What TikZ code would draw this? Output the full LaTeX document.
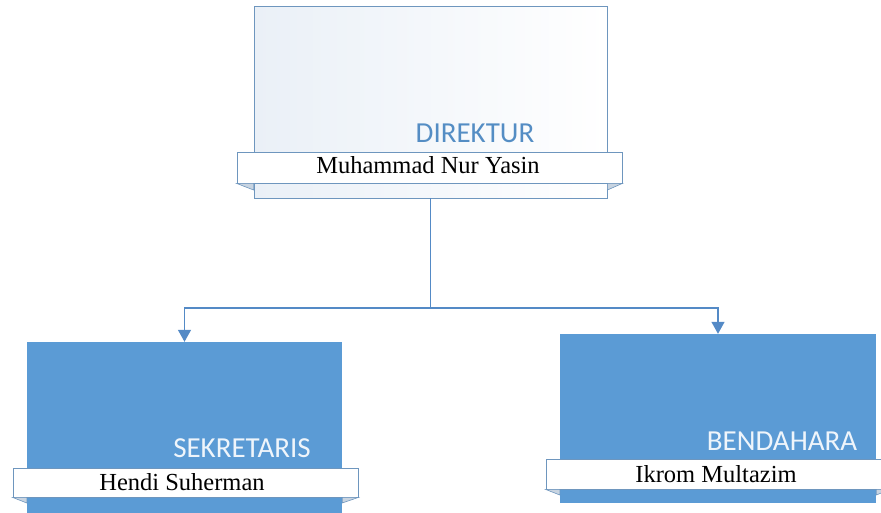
\documentclass[tikz,border=0pt]{standalone}
\usepackage{fontspec}
\setmainfont{Liberation Serif}
\newfontfamily\calib{Carlito}
\usetikzlibrary{arrows.meta}
\definecolor{boxblue}{RGB}{91,155,213}
\definecolor{lineblue}{RGB}{84,138,198}
\definecolor{edgeblue}{RGB}{110,150,190}
\definecolor{titleblue}{RGB}{84,141,196}
\definecolor{paleblue}{RGB}{234,240,247}
\definecolor{foldgray}{RGB}{200,212,225}
\tikzset{
  filledbox/.style={draw=none, fill=boxblue, minimum width=#1, inner sep=0pt},
  banner/.style={draw=edgeblue, line width=0.8pt, fill=white, inner sep=0pt},
  fold/.style={draw=edgeblue, line width=0.6pt, fill=foldgray},
  titletext/.style={font=\calib\fontsize{29}{29}\selectfont, inner sep=0pt, anchor=base},
  nametext/.style={font=\fontsize{24.5}{24.5}\selectfont, inner sep=0pt, anchor=base, text=black},
  conn/.style={draw=lineblue, line width=1.3pt, -{Triangle[width=13pt,length=12pt]}},
}
\begin{document}
\begin{tikzpicture}[x=1pt,y=-1pt]
\useasboundingbox (0,0) rectangle (881,512);
% Director
\node[draw=edgeblue, line width=0.8pt, left color=paleblue, right color=white,
      minimum width=353pt, minimum height=192pt, inner sep=0pt] (dir) at (430.5,102) {};
\node[titletext, text=titleblue] (dirtitle) at (475,142) {DIREKTUR};
\node[banner, minimum width=385pt, minimum height=31pt] (dirban) at (429.5,167.5) {};
\path[fold] (dirban.south west) -- (dir.west |- 0,190) -- (dir.west |- dirban.south) -- cycle;
\path[fold] (dirban.south east) -- (dir.east |- 0,190) -- (dir.east |- dirban.south) -- cycle;
\node[nametext] (dirname) at (428,173) {Muhammad Nur Yasin};
% Sekretaris
\node[filledbox=315pt, minimum height=176pt] (sek) at (184.5,430) {};
\node[titletext, text=white!90!boxblue] (sektitle) at (242,457) {SEKRETARIS};
\node[banner, minimum width=345pt, minimum height=29pt] (sekban) at (185.5,482.5) {};
\path[fold] (sekban.south west) -- (sek.west |- 0,503) -- (sek.west |- sekban.south) -- cycle;
\path[fold] (sekban.south east) -- (sek.east |- 0,503) -- (sek.east |- sekban.south) -- cycle;
\node[nametext] (sekname) at (182,490) {Hendi Suherman};
% Bendahara
\node[filledbox=316pt, minimum height=169pt] (ben) at (718,418.5) {};
\node[titletext, text=white!90!boxblue] (bentitle) at (782,450) {BENDAHARA};
\node[banner, minimum width=344pt, minimum height=30pt] (benban) at (718,474) {};
\path[fold] (benban.south west) -- (ben.west |- 0,495) -- (ben.west |- benban.south) -- cycle;
\path[fold] (benban.south east) -- (ben.east |- 0,495) -- (ben.east |- benban.south) -- cycle;
\node[nametext] (benname) at (716,482) {Ikrom Multazim};
% connectors
\coordinate (split) at (430.5,308);
\draw[line width=1.3pt, draw=lineblue] (dir.south) -- (split);
\draw[conn] (split) -| (sek.north);
\draw[conn] (split) -| (ben.north);
\end{tikzpicture}
\end{document}
